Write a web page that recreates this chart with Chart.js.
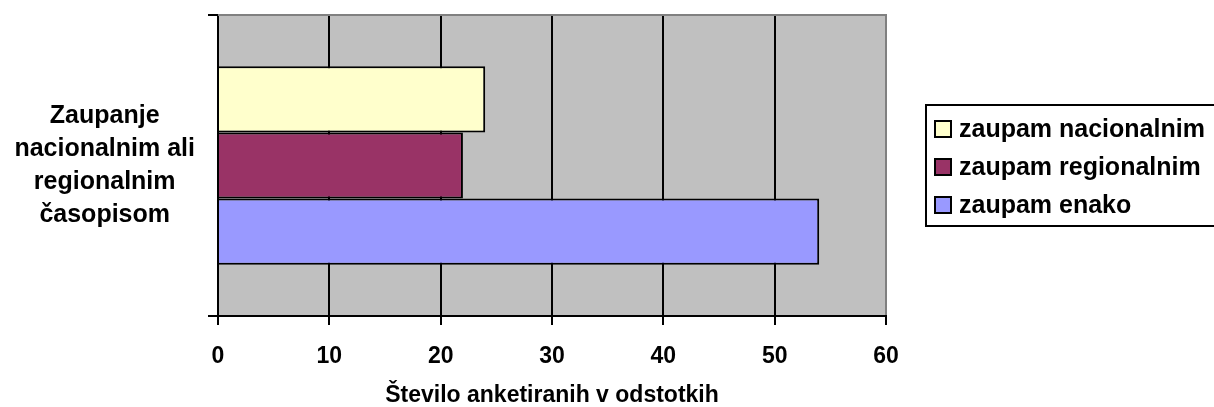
<!DOCTYPE html>
<html>
<head>
<meta charset="utf-8">
<script src="https://cdn.jsdelivr.net/npm/chart.js@4/dist/chart.umd.min.js"></script>
<style>
  body { margin: 0; background: #fff; }
</style>
</head>
<body>
<canvas id="chart" width="1214" height="407"></canvas>
<script>
// data
var categories = [['Zaupanje', 'nacionalnim ali', 'regionalnim', 'časopisom']];
var seriesNames = ['zaupam nacionalnim', 'zaupam regionalnim', 'zaupam enako'];
var nacionalnim = [24];
var regionalnim = [22];
var enako = [54];
var xTicks = [0, 10, 20, 30, 40, 50, 60];
var xTitle = 'Število anketiranih v odstotkih';

var FONT = 'Arial, "Liberation Sans", sans-serif';

// grey plot background + grey top/right frame, like old Excel charts
var plotFrame = {
    id: 'plotFrame',
    beforeDraw: function (chart) {
        var a = chart.chartArea, ctx = chart.ctx;
        ctx.save();
        ctx.fillStyle = '#C0C0C0';
        ctx.fillRect(a.left, a.top, a.right - a.left, a.bottom - a.top);
        ctx.restore();
    },
    afterDraw: function (chart) {
        var a = chart.chartArea, ctx = chart.ctx;
        ctx.save();
        ctx.strokeStyle = '#808080';
        ctx.lineWidth = 2;
        ctx.beginPath();
        ctx.moveTo(a.left, a.top);
        ctx.lineTo(a.right, a.top);
        ctx.lineTo(a.right, a.bottom - 1);
        ctx.stroke();
        ctx.restore();
    }
};

// boxed legend on the right
var boxLegend = {
    id: 'boxLegend',
    afterDraw: function (chart) {
        var ctx = chart.ctx;
        var x0 = 926, y0 = 105, y1 = 226;
        ctx.save();
        ctx.strokeStyle = '#000';
        ctx.lineWidth = 2;
        ctx.strokeRect(x0, y0, 1214 - x0 + 5, y1 - y0);
        ctx.font = 'bold 25px ' + FONT;
        ctx.textBaseline = 'alphabetic';
        ctx.textAlign = 'left';
        chart.data.datasets.forEach(function (ds, i) {
            var base = 137 + i * 38;
            ctx.fillStyle = ds.backgroundColor;
            ctx.fillRect(935, base - 16, 16, 16);
            ctx.strokeRect(935, base - 16, 16, 16);
            ctx.fillStyle = '#000';
            ctx.fillText(ds.label, 959, base);
        });
        ctx.restore();
    }
};

new Chart(document.getElementById('chart'), {
    type: 'bar',
    data: {
        labels: categories,
        datasets: [{
            label: seriesNames[0],
            data: nacionalnim,
            backgroundColor: '#FFFFCC'
        }, {
            label: seriesNames[1],
            data: regionalnim,
            backgroundColor: '#993366'
        }, {
            label: seriesNames[2],
            data: enako,
            backgroundColor: '#9999FF'
        }]
    },
    options: {
        indexAxis: 'y',
        responsive: false,
        animation: false,
        layout: { padding: { top: 15, right: 328, bottom: 0, left: 0 } },
        datasets: {
            bar: {
                borderColor: '#000',
                borderWidth: 2,
                categoryPercentage: 0.66,
                barPercentage: 1.0
            }
        },
        scales: {
            x: {
                min: 0,
                max: 60,
                afterFit: function (scale) { scale.height = 91; },
                afterBuildTicks: function (scale) {
                    scale.ticks = xTicks.map(function (v) { return { value: v }; });
                },
                grid: { color: '#000', lineWidth: 2, tickLength: 9 },
                border: { color: '#000', width: 2 },
                ticks: {
                    color: '#000',
                    padding: 18,
                    font: { family: FONT, size: 23, weight: 'bold' }
                },
                title: {
                    display: true,
                    text: xTitle,
                    color: '#000',
                    padding: { top: 0, bottom: 0 },
                    font: { family: FONT, size: 23, weight: 'bold', lineHeight: 1 }
                }
            },
            y: {
                afterFit: function (scale) {
                    scale.width = 218;
                    // tall multi-line label would otherwise push the plot down
                    scale.paddingTop = 0;
                    scale.paddingBottom = 0;
                },
                grid: { color: '#000', lineWidth: 2, tickLength: 10, drawOnChartArea: false },
                border: { color: '#000', width: 2 },
                ticks: {
                    color: '#000',
                    crossAlign: 'center',
                    padding: 13,
                    font: { family: FONT, size: 25, weight: 'bold', lineHeight: 1.31 }
                }
            }
        },
        plugins: {
            legend: { display: false },
            tooltip: { enabled: false }
        }
    },
    plugins: [plotFrame, boxLegend]
});
</script>
</body>
</html>
